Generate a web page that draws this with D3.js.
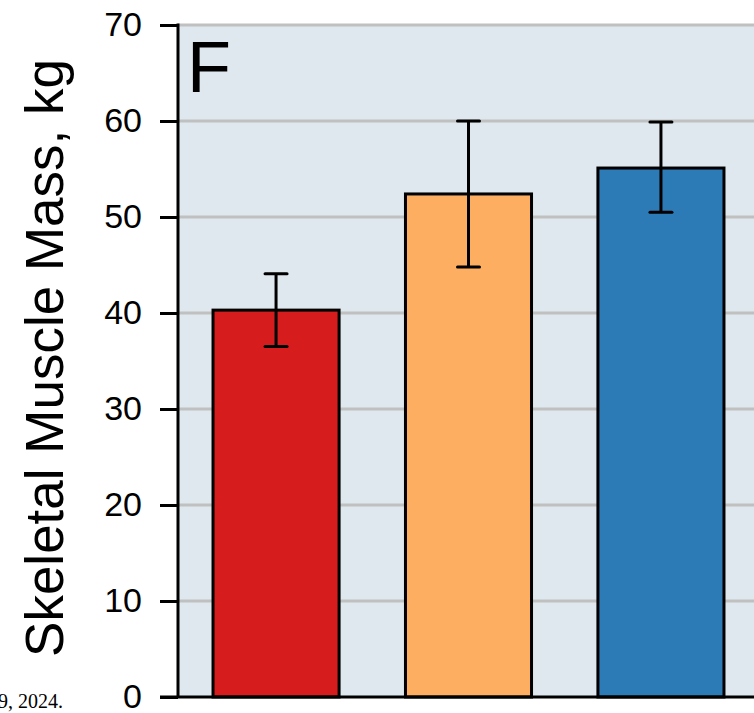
<!DOCTYPE html>
<html>
<head>
<meta charset="utf-8">
<script src="https://cdn.jsdelivr.net/npm/d3@7"></script>
<style>
  body { margin: 0; background: #fff; }
  svg { display: block; }
</style>
</head>
<body>
<script>
// data
const groups = ["A", "B", "C"]
const means = [40.3, 52.4, 55.1]
const errLow = [36.5, 44.8, 50.5]
const errHigh = [44.1, 60.0, 59.9]
const barColors = ["#d71c1d", "#fdae61", "#2c7bb6"]
const yTicks = [0, 10, 20, 30, 40, 50, 60, 70]

const width = 754, height = 713
const plotLeft = 178, plotRight = 754, plotTop = 25, plotBottom = 697

const svg = d3.select("body").append("svg")
    .attr("width", width)
    .attr("height", height)

// band range runs a bit past the window edge, like the cropped source
const x = d3.scaleBand()
    .domain(groups)
    .range([plotLeft, 759])
    .paddingInner(0.345)
    .paddingOuter(0.182)

const y = d3.scaleLinear()
    .domain([0, 70])
    .range([plotBottom, plotTop])

// plot background
svg.append("rect")
    .attr("x", plotLeft)
    .attr("y", plotTop)
    .attr("width", plotRight - plotLeft)
    .attr("height", plotBottom - plotTop)
    .attr("fill", "#dfe8ef")

// grid lines
svg.append("g")
    .selectAll("line")
    .data(yTicks.filter(d => d > 0))
    .join("line")
    .attr("x1", plotLeft)
    .attr("x2", plotRight)
    .attr("y1", d => y(d))
    .attr("y2", d => y(d))
    .attr("stroke", "#c0c0c0")
    .attr("stroke-width", 3)

// bars
svg.append("g")
    .selectAll("rect")
    .data(groups)
    .join("rect")
    .attr("x", d => x(d))
    .attr("y", (d, i) => y(means[i]))
    .attr("width", x.bandwidth())
    .attr("height", (d, i) => y(0) - y(means[i]))
    .attr("fill", (d, i) => barColors[i])
    .attr("stroke", "#000")
    .attr("stroke-width", 3)

// error bars
const capW = 22
const errs = svg.append("g")
    .attr("stroke", "#000")
    .attr("stroke-width", 3)
groups.forEach((g, i) => {
    const cx = x(g) + x.bandwidth() / 2
    errs.append("line")
        .attr("x1", cx).attr("x2", cx)
        .attr("y1", y(errHigh[i])).attr("y2", y(errLow[i]))
    errs.append("line")
        .attr("x1", cx - capW / 2).attr("x2", cx + capW / 2)
        .attr("y1", y(errHigh[i])).attr("y2", y(errHigh[i]))
        .attr("stroke-linecap", "round")
    errs.append("line")
        .attr("x1", cx - capW / 2).attr("x2", cx + capW / 2)
        .attr("y1", y(errLow[i])).attr("y2", y(errLow[i]))
        .attr("stroke-linecap", "round")
})

// y axis
const yAxis = svg.append("g")
    .attr("transform", `translate(${plotLeft},0)`)
    .call(d3.axisLeft(y).tickValues(yTicks).tickSize(18).tickPadding(18))
yAxis.select(".domain").remove()
yAxis.selectAll(".tick line")
    .attr("stroke", "#000")
    .attr("stroke-width", 3)
yAxis.selectAll(".tick text")
    .attr("fill", "#000")
    .attr("font-family", "Liberation Sans, Arial, sans-serif")
    .attr("font-size", 34)

svg.append("line")
    .attr("x1", plotLeft).attr("x2", plotLeft)
    .attr("y1", plotTop - 1.5).attr("y2", plotBottom)
    .attr("stroke", "#000")
    .attr("stroke-width", 3)

svg.append("line")
    .attr("x1", plotLeft - 18).attr("x2", plotRight)
    .attr("y1", plotBottom).attr("y2", plotBottom)
    .attr("stroke", "#000")
    .attr("stroke-width", 3)

// y label
svg.append("text")
    .attr("transform", `translate(63,358) rotate(-90)`)
    .attr("text-anchor", "middle")
    .attr("font-family", "Liberation Sans, Arial, sans-serif")
    .attr("font-size", 53)
    .attr("fill", "#000")
    .text("Skeletal Muscle Mass, kg")

// panel letter
svg.append("text")
    .attr("x", 187)
    .attr("y", 92)
    .attr("font-family", "Liberation Sans, Arial, sans-serif")
    .attr("font-size", 72)
    .attr("fill", "#000")
    .text("F")

// caption fragment at the bottom-left edge
svg.append("text")
    .attr("x", -2)
    .attr("y", 708)
    .attr("font-family", "Liberation Serif, Times New Roman, serif")
    .attr("font-size", 20)
    .attr("fill", "#000")
    .text("9, 2024.")
</script>
</body>
</html>
